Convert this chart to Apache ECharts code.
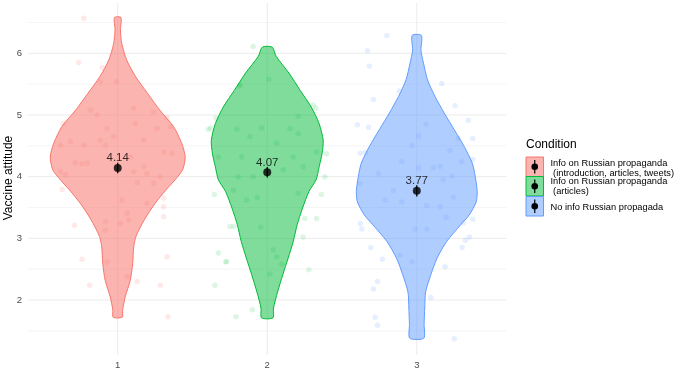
<!DOCTYPE html>
<html>
<head>
<meta charset="utf-8">
<script src="https://cdn.jsdelivr.net/npm/echarts@6/dist/echarts.min.js"></script>
<style>
html,body{margin:0;padding:0;background:#fff;}
#chart{width:685px;height:370px;}
</style>
</head>
<body>
<div id="chart"></div>
<script>
// ---------- data ----------
const categories = ['1', '2', '3'];
const conditionNames = [
  'Info on Russian propaganda\n (introduction, articles, tweets)',
  'Info on Russian propaganda\n (articles)',
  'No info Russian propagada'
];
const legendTitle = 'Condition';
const yTitle = 'Vaccine attitude';
const yTicks = [2, 3, 4, 5, 6];
const yMinorTicks = [1.5, 2.5, 3.5, 4.5, 5.5, 6.5];
const xTicks = [1, 2, 3];

const means = [4.14, 4.07, 3.77];
const meanErr = [0.085, 0.085, 0.09];

// violin profiles: [value, half width (in x units)]
const violin1 = [[6.58,0.022],[6.38,0.018],[6.16,0.027],[5.89,0.060],[5.62,0.120],[5.35,0.200],[5.08,0.281],[4.81,0.374],[4.54,0.428],[4.32,0.451],[4.11,0.434],[3.95,0.384],[3.78,0.321],[3.57,0.251],[3.30,0.178],[3.03,0.122],[2.86,0.107],[2.59,0.100],[2.32,0.084],[2.05,0.050],[1.84,0.033],[1.72,0.030]];
const violin2 = [[6.10,0.033],[5.95,0.060],[5.68,0.145],[5.40,0.220],[5.13,0.294],[4.86,0.347],[4.59,0.374],[4.38,0.367],[4.16,0.347],[3.95,0.327],[3.76,0.279],[3.49,0.236],[3.22,0.200],[2.95,0.174],[2.68,0.140],[2.41,0.104],[2.13,0.069],[1.87,0.042],[1.71,0.038]];
const violin3 = [[6.29,0.031],[6.05,0.028],[5.84,0.045],[5.57,0.072],[5.30,0.122],[5.03,0.184],[4.76,0.251],[4.49,0.317],[4.22,0.371],[4.00,0.391],[3.76,0.404],[3.59,0.397],[3.38,0.351],[3.22,0.294],[2.95,0.200],[2.68,0.136],[2.41,0.094],[2.13,0.059],[1.87,0.053],[1.60,0.049],[1.38,0.047]];

// jittered raw responses: [x position relative to group (around 1), value]
const points1 = [[0.773,6.57],[0.739,5.85],[0.896,5.77],[0.884,5.54],[0.991,5.54],[0.635,4.86],[0.862,5.00],[0.818,5.08],[1.107,5.11],[1.240,5.05],[1.330,4.96],[1.352,4.81],[0.929,4.78],[1.118,4.86],[1.263,4.78],[0.617,4.51],[0.773,4.51],[0.684,4.57],[0.918,4.51],[1.174,4.59],[1.307,4.40],[1.363,4.38],[0.717,4.23],[0.761,4.21],[0.617,4.08],[0.651,4.03],[1.107,4.08],[1.196,4.05],[1.285,4.00],[1.130,3.90],[1.240,3.89],[0.629,3.79],[1.307,3.65],[1.307,3.51],[1.029,3.62],[1.196,3.57],[1.307,3.35],[1.063,3.41],[0.711,3.21],[1.073,3.30],[0.918,3.27],[1.018,3.24],[0.918,3.13],[0.762,2.66],[1.330,2.70],[0.929,2.62],[0.813,2.24],[1.130,2.30],[1.285,2.24],[1.063,2.38],[1.336,1.73],[0.795,4.22],[0.884,4.59],[0.973,4.65],[1.085,4.32],[1.174,4.16]];
const points2 = [[0.622,4.79],[0.657,4.95],[0.606,4.77],[0.673,4.32],[0.646,3.71],[0.673,2.76],[0.722,2.62],[0.650,2.24],[0.791,1.73],[0.818,5.49],[0.773,3.78],[0.751,3.19],[0.906,6.11],[1.011,5.58],[0.813,5.47],[1.307,5.16],[1.325,5.11],[1.207,4.98],[0.796,4.77],[0.963,4.79],[1.152,4.78],[1.207,4.70],[0.884,4.65],[1.063,4.54],[1.330,4.40],[1.397,4.37],[0.829,4.32],[1.174,4.32],[1.240,4.16],[1.385,4.00],[0.806,4.00],[1.107,4.11],[0.906,4.00],[0.862,3.62],[0.933,3.66],[1.207,3.73],[1.362,3.71],[1.252,3.32],[1.330,3.32],[0.777,3.19],[0.956,3.18],[1.240,3.02],[1.040,2.81],[1.063,2.70],[0.729,2.62],[1.096,2.58],[1.278,2.49],[1.018,2.42],[0.900,1.84]];
const points3 = [[0.800,6.29],[0.670,6.04],[0.683,5.79],[1.167,5.51],[0.884,5.39],[0.710,5.25],[1.256,5.15],[0.603,4.84],[0.677,4.80],[1.345,4.91],[1.062,4.85],[1.278,4.62],[1.374,4.62],[1.011,4.66],[0.622,4.38],[0.656,4.39],[0.967,4.50],[0.900,4.24],[1.222,4.43],[1.374,4.28],[1.300,4.24],[1.156,4.17],[1.111,4.15],[0.743,4.05],[1.011,4.14],[0.622,3.89],[1.234,4.01],[1.178,3.95],[0.844,3.78],[0.789,3.62],[0.900,3.59],[1.067,3.53],[1.156,3.51],[1.245,3.67],[1.196,3.34],[1.374,3.31],[1.312,3.25],[0.622,3.24],[0.633,3.15],[0.989,3.15],[1.067,3.15],[1.352,3.02],[1.325,2.97],[1.303,2.85],[0.693,2.85],[0.889,2.73],[0.770,2.66],[0.967,2.62],[1.189,2.54],[0.737,2.30],[0.710,2.18],[1.094,2.04],[0.721,1.72],[0.737,1.59],[1.250,1.37]];

// ---------- styling ----------
const colors = ['#F8766D', '#00BA38', '#619CFF'];
const fills = ['rgba(248,118,109,0.55)', 'rgba(0,186,56,0.5)', 'rgba(97,156,255,0.5)'];
const pointCols = ['rgba(248,118,109,0.2)', 'rgba(0,186,56,0.17)', 'rgba(97,156,255,0.2)'];
const FONT = 'Liberation Sans, Arial, Helvetica, sans-serif';
const violins = [violin1, violin2, violin3];
const pointSets = [points1, points2, points3];
const X_MIN = 0.4, X_MAX = 3.6, Y_MIN = 1.108, Y_MAX = 6.816;

const chart = echarts.init(document.getElementById('chart'), null, {renderer: 'canvas'});

const series = [];

// grid lines
series.push({
  type: 'custom', name: 'grid', silent: true, z: 0,
  data: [[1, 4]],
  renderItem: function (params, api) {
    const children = [];
    yMinorTicks.forEach(function (v) {
      const a = api.coord([X_MIN, v]), b = api.coord([X_MAX, v]);
      children.push({type: 'line', shape: {x1: a[0], y1: a[1], x2: b[0], y2: b[1]}, style: {stroke: '#eeeeee', lineWidth: 0.6}});
    });
    yTicks.forEach(function (v) {
      const a = api.coord([X_MIN, v]), b = api.coord([X_MAX, v]);
      children.push({type: 'line', shape: {x1: a[0], y1: a[1], x2: b[0], y2: b[1]}, style: {stroke: '#ebebeb', lineWidth: 1}});
    });
    xTicks.forEach(function (v) {
      const a = api.coord([v, Y_MIN]), b = api.coord([v, Y_MAX]);
      children.push({type: 'line', shape: {x1: a[0], y1: a[1], x2: b[0], y2: b[1]}, style: {stroke: '#ebebeb', lineWidth: 1}});
    });
    return {type: 'group', children: children};
  }
});

// violins
violins.forEach(function (prof, gi) {
  series.push({
    type: 'custom', name: conditionNames[gi], z: 2, silent: true,
    data: [[gi + 1, means[gi]]],
    renderItem: function (params, api) {
      const c = gi + 1;
      const pts = [];
      prof.forEach(function (p) { pts.push(api.coord([c + p[1], p[0]])); });
      for (let i = prof.length - 1; i >= 0; i--) { pts.push(api.coord([c - prof[i][1], prof[i][0]])); }
      return {type: 'polygon', shape: {points: pts, smooth: 0.25},
        style: {fill: fills[gi], stroke: colors[gi], lineWidth: 1}};
    }
  });
});

// jittered points
pointSets.forEach(function (ps, gi) {
  series.push({
    type: 'scatter', z: 3, silent: true,
    data: ps.map(function (p) { return [p[0] + gi, p[1]]; }),
    symbolSize: 5.5,
    itemStyle: {color: pointCols[gi]},
    animation: false
  });
});

// error bars
series.push({
  type: 'custom', z: 4, silent: true,
  data: means.map(function (m, i) { return [i + 1, m, meanErr[i]]; }),
  renderItem: function (params, api) {
    const x = api.value(0), m = api.value(1), e = api.value(2);
    const a = api.coord([x, m - e]), b = api.coord([x, m + e]);
    return {type: 'line', shape: {x1: a[0], y1: a[1], x2: b[0], y2: b[1]}, style: {stroke: '#000', lineWidth: 1.3}};
  }
});

// means
series.push({
  type: 'scatter', z: 5, silent: true,
  data: means.map(function (m, i) { return [i + 1, m]; }),
  symbolSize: 8,
  itemStyle: {color: '#000'},
  label: {show: true, position: 'top', distance: 0, color: '#000', fontSize: 11.5, fontFamily: FONT,
    formatter: function (p) { return p.value[1].toFixed(2); }},
  animation: false
});

// legend and axis title (drawn as graphic)
const legendGraphics = [];
legendGraphics.push({type: 'text', x: 8.5, y: 178, rotation: Math.PI / 2,
  style: {text: yTitle, fontSize: 12, fontFamily: FONT, fill: '#000', align: 'center', verticalAlign: 'middle'}});
const keyX = 526, keyW = 17.5, keyTops = [157, 176.5, 196.5], keyH = 19.5;
const textYs = [168.3, 186.7, 207];
legendGraphics.push({type: 'text', left: keyX, top: 139, style: {text: legendTitle, fontSize: 12, fontFamily: FONT, fill: '#000'}});
conditionNames.forEach(function (name, i) {
  const y0 = keyTops[i];
  legendGraphics.push({type: 'rect', shape: {x: keyX, y: y0, width: keyW, height: keyH},
    style: {fill: fills[i], stroke: colors[i], lineWidth: 1}});
  legendGraphics.push({type: 'line', shape: {x1: keyX + keyW / 2, y1: y0 + 3, x2: keyX + keyW / 2, y2: y0 + keyH - 3},
    style: {stroke: '#000', lineWidth: 1.2}});
  legendGraphics.push({type: 'circle', shape: {cx: keyX + keyW / 2, cy: y0 + keyH / 2, r: 3.3}, style: {fill: '#000'}});
  legendGraphics.push({type: 'text', x: 550.5, y: textYs[i],
    style: {text: name, fontSize: 9.3, lineHeight: 10, fontFamily: FONT, fill: '#000', verticalAlign: 'middle', align: 'left'}});
});

chart.setOption({
  animation: false,
  backgroundColor: '#fff',
  textStyle: {fontFamily: FONT},
  grid: {left: 28, right: 178.5, top: 3, bottom: 15, containLabel: false, outerBoundsMode: 'none'},
  xAxis: {
    type: 'value', min: X_MIN, max: X_MAX,
    axisLine: {show: false}, axisTick: {show: false}, splitLine: {show: false},
    axisLabel: {customValues: xTicks, color: '#4d4d4d', fontSize: 9.5, margin: 5, fontFamily: FONT,
      formatter: function (v) { return categories[Math.round(v) - 1]; }}
  },
  yAxis: {
    type: 'value', min: Y_MIN, max: Y_MAX,
    axisLine: {show: false}, axisTick: {show: false}, splitLine: {show: false},
    axisLabel: {customValues: yTicks, color: '#4d4d4d', fontSize: 9.5, margin: 6, fontFamily: FONT,
      formatter: function (v) { return String(v); }}
  },
  graphic: legendGraphics,
  series: series
});
</script>
</body>
</html>
